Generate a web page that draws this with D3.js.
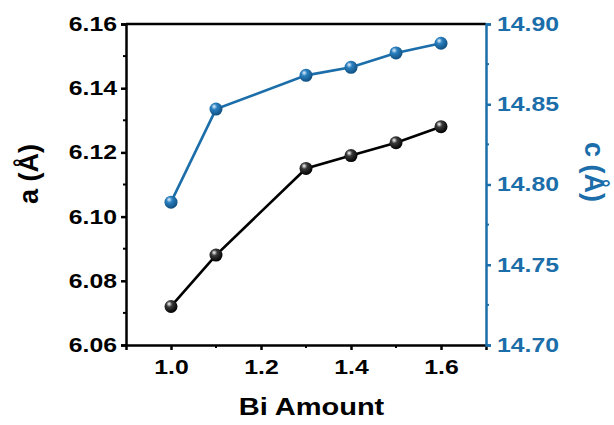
<!DOCTYPE html>
<html><head><meta charset="utf-8">
<script src="https://cdn.jsdelivr.net/npm/d3@7"></script>
<style>body{margin:0;background:#fff}svg{display:block}text{font-family:"Liberation Sans",Arial,sans-serif;font-weight:bold}</style>
</head><body>
<svg id="c" width="614" height="425"></svg>
<script>
const biAmount = [1.0, 1.1, 1.3, 1.4, 1.5, 1.6];
const aValues = [6.072, 6.088, 6.115, 6.119, 6.123, 6.128];
const cValues = [14.789, 14.847, 14.868, 14.873, 14.882, 14.888];
const xTicks = [1.0, 1.2, 1.4, 1.6];
const xMinor = [1.1, 1.3, 1.5];
const aTicks = [6.06, 6.08, 6.10, 6.12, 6.14, 6.16];
const aMinor = [6.07, 6.09, 6.11, 6.13, 6.15];
const cTicks = [14.70, 14.75, 14.80, 14.85, 14.90];
const cMinor = [14.725, 14.775, 14.825, 14.875];

const blue = "#1b6ea9";
const L = 126, R = 486, T = 24, B = 345;
const SX = 1.24;
const svg = d3.select("#c");
const x = d3.scaleLinear().domain([0.9, 1.7]).range([L, R]);
const ya = d3.scaleLinear().domain([6.06, 6.16]).range([B, T]);
const yc = d3.scaleLinear().domain([14.70, 14.90]).range([B, T]);

const defs = svg.append("defs");
function grad(id, c0, c1, c2) {
  const g = defs.append("radialGradient").attr("id", id).attr("cx", "0.4").attr("cy", "0.35").attr("r", "0.65").attr("fx", "0.35").attr("fy", "0.3");
  g.append("stop").attr("offset", "0").attr("stop-color", c0);
  g.append("stop").attr("offset", "0.35").attr("stop-color", c1);
  g.append("stop").attr("offset", "1").attr("stop-color", c2);
}
grad("gb", "#ffffff", "#3a3a3a", "#000000");
grad("gc", "#e6f2fb", "#2a80c0", "#104f80");

svg.append("line").attr("x1", L).attr("x2", R).attr("y1", T).attr("y2", T).attr("stroke", "#000").attr("stroke-width", 2.5);

function styleAxis(g, color) {
  g.attr("font-size", null).attr("font-family", null);
  g.select(".domain").attr("stroke", color).attr("stroke-width", 2.5);
  g.selectAll(".tick line").attr("stroke", color).attr("stroke-width", 2.5);
  g.selectAll(".tick text").attr("fill", color).style("font-size", "20px").style("font-weight", "bold")
    .each(function () {
      const t = d3.select(this);
      const xv = +t.attr("x") || 0;
      t.attr("x", 0).attr("transform", `translate(${xv},0) scale(${SX},1)`);
    });
}
function minor(g, scaleFn, vals, orient, color) {
  vals.forEach(v => {
    const p = scaleFn(v);
    if (orient === "bottom") g.append("line").attr("x1", p).attr("x2", p).attr("y1", B).attr("y2", B + 3).attr("stroke", color).attr("stroke-width", 2);
    if (orient === "left") g.append("line").attr("x1", L).attr("x2", L - 3).attr("y1", p).attr("y2", p).attr("stroke", color).attr("stroke-width", 2);
    if (orient === "right") g.append("line").attr("x1", R).attr("x2", R + 3).attr("y1", p).attr("y2", p).attr("stroke", color).attr("stroke-width", 2);
  });
}

const gx = svg.append("g").attr("transform", `translate(0,${B})`)
  .call(d3.axisBottom(x).tickValues(xTicks).tickFormat(d3.format(".1f")).tickSizeOuter(0).tickSize(5).tickPadding(10));
styleAxis(gx, "#000");
const ga = svg.append("g").attr("transform", `translate(${L},0)`)
  .call(d3.axisLeft(ya).tickValues(aTicks).tickFormat(d3.format(".2f")).tickSizeOuter(0).tickSize(5).tickPadding(4));
styleAxis(ga, "#000");
const gcx = svg.append("g").attr("transform", `translate(${R},0)`)
  .call(d3.axisRight(yc).tickValues(cTicks).tickFormat(d3.format(".2f")).tickSizeOuter(0).tickSize(5).tickPadding(6));
styleAxis(gcx, blue);
const gm = svg.append("g");
minor(gm, x, xMinor, "bottom", "#000");
minor(gm, ya, aMinor, "left", "#000");
minor(gm, yc, cMinor, "right", blue);

const lineA = d3.line().x((d, i) => x(biAmount[i])).y(d => ya(d));
const lineC = d3.line().x((d, i) => x(biAmount[i])).y(d => yc(d));
svg.append("path").attr("d", lineA(aValues)).attr("fill", "none").attr("stroke", "#000").attr("stroke-width", 2.6);
svg.append("path").attr("d", lineC(cValues)).attr("fill", "none").attr("stroke", blue).attr("stroke-width", 2.6);
svg.selectAll(".ma").data(aValues).join("circle").attr("cx", (d, i) => x(biAmount[i])).attr("cy", d => ya(d)).attr("r", 6.5).attr("fill", "url(#gb)");
svg.selectAll(".mc").data(cValues).join("circle").attr("cx", (d, i) => x(biAmount[i])).attr("cy", d => yc(d)).attr("r", 6.5).attr("fill", "url(#gc)");

svg.append("text").attr("transform", "translate(37.5,174) rotate(-90)").attr("text-anchor", "middle").style("font-size", "27px").attr("fill", "#000").text("a (Å)");
svg.append("text").attr("transform", "translate(585,172) rotate(90)").attr("text-anchor", "middle").style("font-size", "27px").attr("fill", blue).text("c (Å)");
svg.append("text").attr("transform", "translate(311.5,414.5) scale(1.18,1)").attr("text-anchor", "middle").style("font-size", "24.6px").attr("fill", "#000").text("Bi Amount");
</script>
</body></html>
